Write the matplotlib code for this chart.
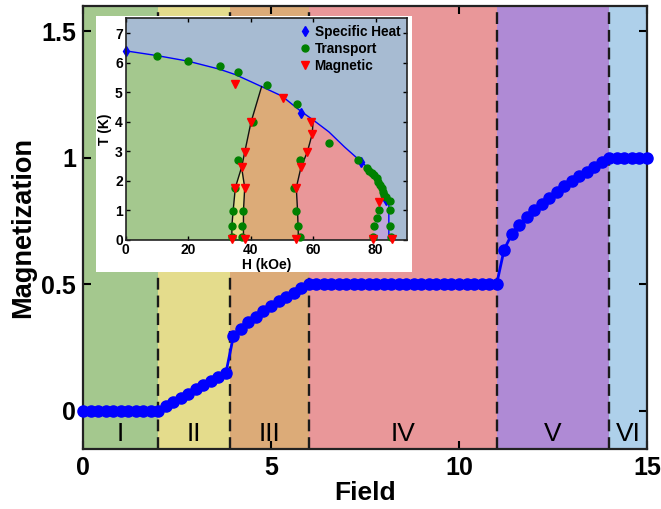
import numpy as np
import matplotlib
matplotlib.use('Agg')
import matplotlib.pyplot as plt
from matplotlib.patches import Rectangle

plt.rcParams['font.family'] = ['Liberation Sans', 'DejaVu Sans']

# ---- main panel: magnetization vs field ----
field = np.linspace(0, 15, 76)
magnetization = ([0.0] * 11 +
                 [0.02, 0.035, 0.052, 0.068, 0.087, 0.102, 0.12, 0.135, 0.15] +
                 [0.295, 0.325, 0.352, 0.373, 0.396, 0.414, 0.434, 0.45, 0.467, 0.484, 0.5] +
                 [0.5] * 25 +
                 [0.637, 0.697, 0.735, 0.767, 0.795, 0.819, 0.842, 0.866, 0.887,
                  0.907, 0.927, 0.945, 0.963, 0.982, 1.0] +
                 [1.0] * 5)

boundaries = [0, 2, 3.9, 6, 11, 14, 15]
region_names = ['I', 'II', 'III', 'IV', 'V', 'VI']
region_colors = ['#a4c88e', '#e4dc8c', '#dcab78', '#e99799', '#af8ad5', '#aed0ea']

# ---- inset: H-T phase diagram ----
tc_H = [0, 10, 20, 30, 35, 40, 43.5, 50, 56, 60, 65, 70, 75, 78, 80, 82, 83.3, 84.2, 84.2]
tc_T = [6.4, 6.24, 6.05, 5.78, 5.6, 5.36, 5.19, 4.87, 4.36, 4.06, 3.66, 3.15, 2.68, 2.4, 2.15, 1.8, 1.42, 1.3, 0]

heat_H = [0, 56.1, 75.2, 83.3]
heat_T = [6.4, 4.29, 2.65, 1.36]

transport_H = [10, 20, 30.2, 36.1, 45.1, 54.9, 65.1, 74.2, 77.1, 77.9, 78.7, 79.5, 80.3, 80.8,
               81.3, 81.9, 82.4, 82.7, 83.2, 84.5, 81.0, 80.3, 79.5, 79.0, 84.5, 84.5, 84.8,
               40.8, 35.8, 35.1, 34.4, 34.0, 34.0, 37.4, 37.1, 37.1,
               55.8, 53.9, 54.5, 55.0, 55.9]
transport_T = [6.24, 6.07, 5.89, 5.69, 5.24, 4.59, 3.29, 2.69, 2.45, 2.34, 2.28, 2.2, 2.11, 1.97,
               1.86, 1.75, 1.63, 1.52, 1.44, 1.32, 1.01, 0.73, 0.47, 0.11, 1.01, 0.47, 0.09,
               3.98, 2.7, 1.77, 0.99, 0.48, 0.09, 0.99, 0.48, 0.09,
               2.7, 1.77, 0.99, 0.48, 0.09]

magnetic_H = [35.1, 50.2, 40.1, 38.1, 37.1, 35.1, 38.1, 34.0, 38.1,
              59.2, 59.7, 58.1, 56.1, 54.6, 54.6, 81.1, 79.2, 85.2]
magnetic_T = [5.28, 4.79, 3.98, 2.97, 2.46, 1.77, 1.77, 0.03, 0.03,
              3.98, 3.59, 2.97, 2.46, 1.77, 0.03, 1.29, 0.03, 0.03]

# black phase boundaries
b1_H = [43.5, 40.1, 38.1, 37.1, 35.1, 34.4, 34.0, 34.0]
b1_T = [5.19, 3.98, 2.97, 2.46, 1.77, 0.99, 0.48, 0]
b1r_H = [37.1, 38.1, 37.7, 37.7]
b1r_T = [2.46, 1.77, 0.99, 0]
b2_H = [60.0, 59.7, 58.1, 56.1, 54.6, 55.0, 55.3]
b2_T = [4.06, 3.59, 2.97, 2.46, 1.77, 0.99, 0]
purple_H = [79.2, 79.5, 80.3, 81.0, 81.8, 83.3, 84.2, 84.2]
purple_T = [0, 0.47, 0.73, 1.01, 1.3, 1.4, 1.3, 0]

fig = plt.figure(figsize=(6.61, 5.09), dpi=100)
ax = fig.add_axes([0.1256, 0.1179, 0.8532, 0.8709])

for i in range(len(region_names)):
    ax.axvspan(boundaries[i], boundaries[i + 1], color=region_colors[i], lw=0, zorder=0)
    ax.text((boundaries[i] + boundaries[i + 1]) / 2, -0.09, region_names[i],
            ha='center', va='center', fontsize=19)
for b in boundaries[1:-1]:
    ax.axvline(b, color='#1a1a1a', ls=(0, (5, 2.5)), lw=1.7, zorder=1)

ax.plot(field, magnetization, '-o', color='#0000ff', lw=2, ms=8, zorder=3, clip_on=False)

ax.set_xlim(0, 15)
ax.set_ylim(-0.15, 1.6)
ax.set_xticks([0, 5, 10, 15])
ax.set_yticks([0, 0.5, 1, 1.5])
ax.set_yticklabels(['0', '0.5', '1', '1.5'])
ax.tick_params(direction='in', length=6, width=1.5, top=True, right=True, labelsize=18, pad=5)
for lab in ax.get_xticklabels() + ax.get_yticklabels():
    lab.set_fontweight('bold')
for s in ax.spines.values():
    s.set_linewidth(1.6)
    s.set_color('#222222')
ax.set_xlabel('Field', fontsize=19, fontweight='bold', labelpad=1)
ax.set_ylabel('Magnetization', fontsize=19.5, fontweight='bold', labelpad=4)

# white box behind the inset
ax.add_patch(Rectangle((0.1448, 0.4656), 0.4785, 0.503, transform=fig.transFigure,
                       facecolor='white', edgecolor='none', zorder=5, clip_on=False))

ins = fig.add_axes([0.190, 0.5285, 0.4257, 0.4355])
ins.set_facecolor('#a7bbd2')
ins.fill(tc_H + [0], tc_T + [0], color='#e99799', lw=0, zorder=0)
ins.fill(tc_H[:10] + b2_H + [0], tc_T[:10] + b2_T + [0], color='#dcab78', lw=0, zorder=0)
ins.fill(tc_H[:7] + b1_H + [0], tc_T[:7] + b1_T + [0], color='#a4c88e', lw=0, zorder=0)
ins.fill(b1_H[3:] + b1r_H[::-1], b1_T[3:] + b1r_T[::-1], color='#e4dc8c', lw=0, zorder=0)
ins.fill(purple_H, purple_T, color='#bda6d9', lw=0, zorder=0)

ins.plot(tc_H, tc_T, color='#0000ff', lw=1, zorder=1)
ins.plot(b1_H, b1_T, color='#111111', lw=1, zorder=1)
ins.plot(b1r_H, b1r_T, color='#111111', lw=1, zorder=1)
ins.plot(b2_H, b2_T, color='#111111', lw=1, zorder=1)

ins.plot(heat_H, heat_T, 'd', color='#0000ff', ms=5, label='Specific Heat', zorder=2, clip_on=False)
ins.plot(transport_H, transport_T, 'o', color='#008000', ms=5, label='Transport', zorder=3, clip_on=False)
ins.plot(magnetic_H, magnetic_T, 'v', color='#ff0000', ms=5.5, label='Magnetic', zorder=4, clip_on=False)

ins.set_xlim(0, 90)
ins.set_ylim(0, 7.5)
ins.set_xticks([0, 20, 40, 60, 80])
ins.set_yticks(range(8))
ins.tick_params(direction='in', length=3, width=1, top=True, right=True, labelsize=10, pad=2)
for lab in ins.get_xticklabels() + ins.get_yticklabels():
    lab.set_fontweight('bold')
for s in ins.spines.values():
    s.set_linewidth(1.2)
    s.set_color('#222222')
ins.set_xlabel('H (kOe)', fontsize=10, fontweight='bold', labelpad=1)
ins.set_ylabel('T (K)', fontsize=10, fontweight='bold', labelpad=2)
leg = ins.legend(loc='upper right', frameon=False, handletextpad=0.1,
                 labelspacing=0.2, borderaxespad=0.1, handlelength=1.2,
                 prop={'weight': 'bold', 'size': 9.8})

fig.savefig('out.png', dpi=100)
